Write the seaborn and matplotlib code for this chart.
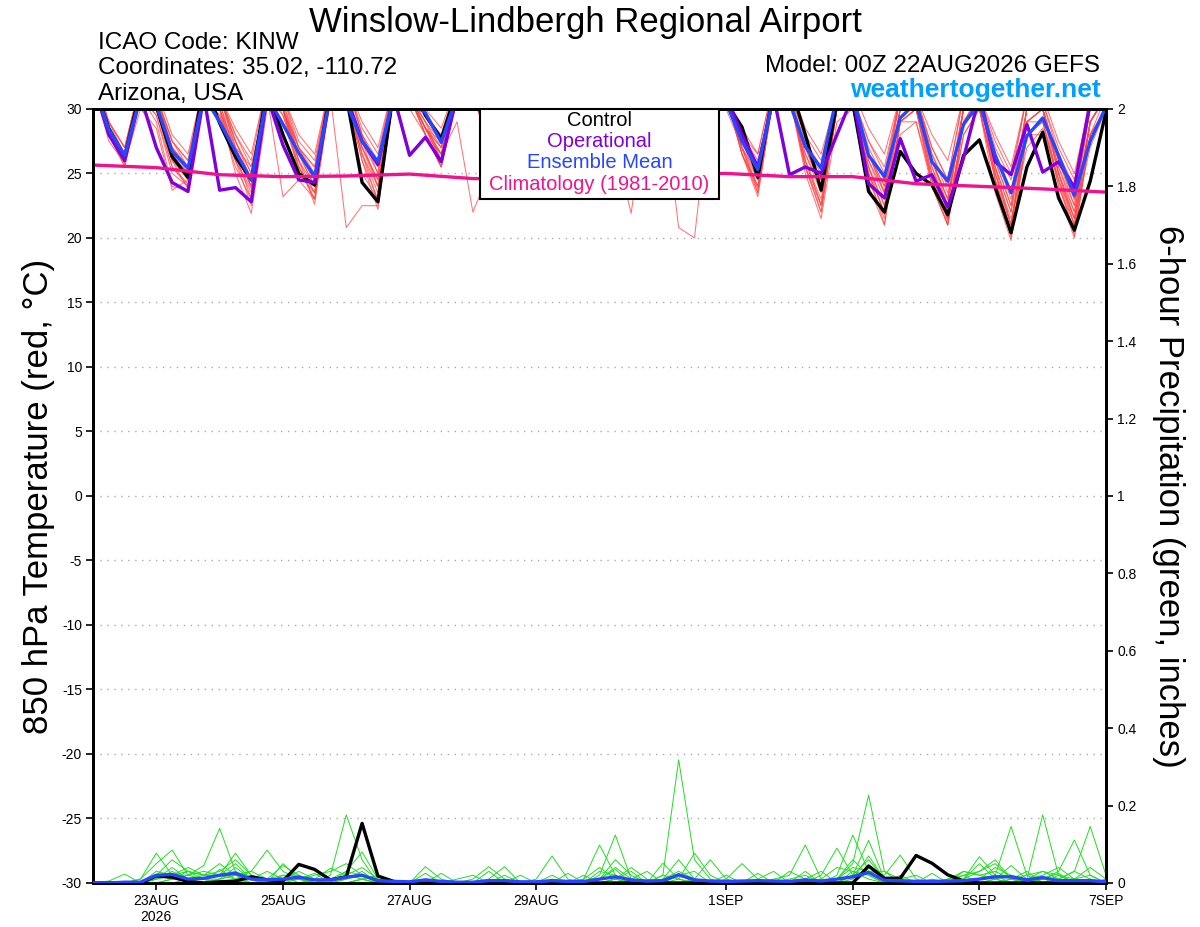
import numpy as np
import pandas as pd
import matplotlib
matplotlib.use('Agg')
import matplotlib.pyplot as plt
import seaborn as sns
from matplotlib.patches import Rectangle

# 6-hourly GEFS steps, 00Z 22AUG2026 -> 00Z 07SEP2026
times = pd.date_range('2026-08-22 00:00', periods=65, freq='6h')
clim_times = pd.date_range('2026-08-22', periods=17, freq='D')

# 850 hPa temperature (degC); values above 30 get clipped by the axis
control_temp = [32, 28.5, 26.3, 31.5, 30.2, 26.3, 24.7, 32, 28.9, 26.3, 24.5, 31.5, 28.0, 25.0, 24.1, 31.5,
                31, 24.3, 22.8, 31.5, 32, 29.5, 27.7, 31.5, 32, 28.0, 25.5, 31.5, 32, 28.0, 25.5, 31,
                32, 28.5, 25.8, 31, 32, 28.0, 25.0, 31, 30.5, 28.6, 24.7, 31.5, 32, 28.0, 23.7, 30.5,
                30.5, 23.6, 22.0, 26.7, 25.0, 24.1, 21.8, 26.4, 27.6, 23.9, 20.4, 25.5, 28.2, 23.1, 20.6, 24.4,
                29.8]
oper_temp = [32, 28.0, 26.0, 31, 27.0, 24.3, 23.6, 31, 23.7, 23.9, 22.8, 31, 27.2, 24.5, 24.3, 31,
             31, 27.5, 25.7, 31, 26.4, 27.8, 25.9, 31, 31, 28.5, 26.0, 31, 31, 28.0, 25.5, 31,
             31, 28.5, 25.5, 31, 31, 28.0, 25.5, 31, 31, 28.0, 25.5, 31, 24.9, 25.5, 25.0, 28.0,
             31, 24.2, 23.1, 27.7, 24.4, 24.9, 22.4, 26.2, 31, 25.9, 24.9, 28.8, 25.1, 25.9, 23.9, 30.5,
             32]
mean_temp = [32, 28.4, 26.4, 31, 30.3, 26.7, 25.4, 31, 29.0, 26.7, 24.5, 31, 28.8, 26.6, 24.75, 31,
             30.5, 27.5, 25.9, 31, 30.5, 29.7, 27.4, 31, 31, 28.5, 26.5, 31, 31, 28.5, 26.3, 31,
             31, 28.6, 26.0, 31, 31, 28.3, 25.8, 31, 30.5, 27.5, 25.3, 31, 30.5, 27.1, 25.4, 31,
             31, 26.4, 24.75, 29.3, 30.5, 25.9, 24.4, 28.8, 30.5, 26.4, 23.5, 27.9, 29.3, 26.4, 23.3, 27.5,
             30.2]
clim_temp = [25.65, 25.45, 24.9, 24.75, 24.8, 24.95, 24.6, 24.6, 24.7, 24.9, 25.0, 24.75, 24.75,
             24.2, 24.0, 23.8, 23.55]

red_members = {
    'm01': [32, 28.0, 25.8, 31, 30.5, 26.5, 24.5, 32, 29.0, 26.0, 23.8, 31, 29.0, 25.5, 23.5, 32,
            31, 27.0, 24.5, 32, 31, 29.0, 27.0, 32, 32, 28.5, 25.5, 31, 31, 28.0, 24.5, 31,
            31, 28.0, 25.0, 31, 31, 28.5, 25.5, 31, 31, 27.5, 24.5, 31, 31, 26.5, 23.5, 30,
            30, 25.5, 22.5, 28, 29, 24.5, 21.5, 28, 30, 25.0, 21.5, 27, 28.5, 24.5, 21.5, 27, 30],
    'm02': [33, 29.0, 27.0, 32, 31.5, 28.0, 26.5, 32, 31, 28.5, 26.5, 32, 31, 28.0, 26.5, 32,
            32, 29.0, 27.0, 32, 32, 30.0, 28.5, 32, 32, 29.5, 27.5, 32, 32, 29.0, 27.5, 32,
            32, 29.5, 27.5, 32, 32, 29.0, 27.5, 32, 31, 28.5, 26.5, 32, 32, 28.5, 26.5, 31,
            31.5, 28.5, 26.5, 31, 31, 28.0, 26.0, 31, 31, 28.0, 25.5, 31, 31, 27.5, 25.0, 30.5, 31],
    'm03': [32, 28.5, 26.0, 31, 29.5, 25.0, 24.0, 31, 30, 26.0, 22.5, 31, 23.2, 24.5, 23.0, 31,
            20.8, 22.5, 22.5, 31, 31, 28.0, 26.0, 32, 31, 28.0, 25.0, 31, 31, 27.5, 24.0, 31,
            31, 27.0, 23.5, 31, 31, 27.5, 24.0, 31, 31, 27.0, 24.0, 31, 31, 26.0, 22.5, 30,
            31, 25.0, 21.0, 29, 30, 24.0, 21.0, 29, 31, 24.5, 20.5, 29, 30, 24.0, 20.5, 28, 31],
    'm04': [32, 28.5, 26.5, 31, 31, 27.0, 25.5, 32, 31, 27.5, 25.0, 31, 30, 26.5, 24.5, 31,
            31, 27.5, 25.5, 31, 30, 28.0, 26.5, 29, 22.0, 25.0, 26.0, 31, 31, 28.0, 25.0, 31,
            31, 27.0, 21.9, 31, 31, 28.0, 25.0, 31, 31, 27.5, 25.5, 31, 31, 27.0, 24.0, 31,
            31, 26.5, 23.5, 30, 31, 26.0, 23.0, 30, 31, 26.0, 22.5, 30, 30, 25.5, 22.5, 29, 31],
    'm05': [32, 28.0, 25.5, 31, 30, 26.0, 23.8, 31, 30, 26.5, 24.0, 31, 30, 26.0, 24.0, 31,
            31, 26.5, 23.5, 31, 31, 28.5, 26.0, 31, 32, 28.0, 25.0, 31, 31, 28.0, 24.5, 31,
            31, 28.0, 24.5, 31, 31, 20.8, 20.0, 31, 31, 27.0, 23.5, 31, 31, 25.5, 22.0, 30,
            30, 25.0, 22.0, 29, 30, 25.0, 21.5, 29, 30, 24.5, 20.0, 28, 29, 24.5, 20.2, 28, 30],
    'm06': [32, 28.5, 26.0, 31, 30.5, 27.0, 25.0, 32, 30, 27.0, 24.5, 32, 29.5, 26.5, 25.0, 31,
            31, 27.5, 25.0, 32, 31, 28.5, 27.5, 32, 31, 28.5, 26.0, 31, 31, 28.0, 25.5, 31,
            31, 28.0, 25.5, 31, 31, 28.0, 25.0, 31, 30, 27.0, 25.0, 31, 31, 27.0, 24.5, 30,
            31, 26.5, 24.0, 31, 31, 26.0, 23.0, 30, 31, 26.5, 23.5, 30, 30, 26.0, 23.0, 30, 32],
    'm07': [32, 28.0, 26.0, 31, 29, 24.0, 23.7, 31, 30, 25.0, 21.9, 30, 30, 26.0, 22.6, 31,
            31, 26.0, 22.2, 31, 31, 28.0, 25.5, 31, 31, 27.5, 24.0, 31, 31, 27.0, 23.5, 31,
            31, 27.0, 24.0, 31, 31, 27.5, 24.5, 31, 31, 26.5, 24.0, 31, 31, 25.5, 22.0, 30,
            30, 24.5, 21.5, 29, 30, 24.5, 21.0, 29, 30, 25.0, 21.0, 29, 29, 24.0, 21.0, 29, 31],
    'm08': [32, 29.0, 27.0, 32, 31, 27.5, 26.0, 32, 31, 28.0, 25.5, 31, 30, 27.0, 25.5, 32,
            32, 28.0, 26.0, 32, 31, 28.5, 27.0, 32, 32, 29.0, 26.5, 32, 31, 28.5, 26.0, 31,
            31, 28.5, 26.5, 31, 31, 28.5, 26.0, 31, 31, 28.0, 26.0, 31, 31, 27.5, 25.5, 31,
            31, 27.5, 25.5, 31, 31, 27.0, 24.5, 31, 31, 27.0, 24.5, 31, 30.5, 26.5, 24.0, 30, 31],
    'm09': [32, 27.5, 25.8, 30, 28.5, 23.7, 24.5, 31, 29.5, 26.5, 23.0, 31, 30, 25.0, 23.5, 31,
            31, 25.0, 23.0, 31, 31, 28.5, 26.0, 31, 31, 28.0, 25.0, 31, 31, 27.5, 25.0, 31,
            31, 28.0, 25.0, 31, 31, 27.5, 24.5, 31, 31, 26.5, 23.2, 31, 31, 26.0, 22.6, 30,
            31, 25.5, 21.8, 30, 30, 25.0, 21.3, 29, 31, 25.5, 21.0, 29, 30, 25.0, 21.5, 29, 31],
    'm10': [32, 28.5, 26.5, 31, 31, 27.0, 25.5, 32, 31, 27.5, 24.5, 31, 30, 26.5, 24.0, 31,
            31, 26.5, 24.0, 31, 31, 29.0, 26.0, 32, 31, 28.0, 25.5, 31, 31, 28.0, 25.0, 31,
            31, 28.0, 25.0, 31, 31, 28.0, 25.0, 31, 31, 27.5, 25.0, 31, 31, 27.0, 24.5, 31,
            31, 26.5, 23.5, 31, 30.5, 26.0, 23.0, 30, 31, 25.5, 22.0, 30, 30, 25.0, 22.0, 29, 31],
    'm11': [32, 28.0, 26.0, 31, 30, 26.0, 24.5, 31, 30, 26.0, 23.5, 31, 29.5, 25.5, 23.0, 31,
            31, 26.0, 23.0, 31, 31, 28.0, 25.5, 31, 31, 27.5, 24.5, 31, 31, 27.0, 24.0, 31,
            31, 27.5, 24.0, 31, 31, 27.0, 24.0, 31, 31, 26.5, 23.5, 31, 31, 25.0, 21.5, 29,
            30, 24.0, 21.0, 29, 29, 24.0, 21.0, 28, 30, 23.5, 19.8, 28, 28, 23.5, 20.0, 28, 30],
    'm12': [32, 29.0, 26.5, 32, 31, 27.5, 26.0, 32, 31, 28.0, 26.0, 32, 31, 27.5, 26.0, 32,
            32, 28.5, 26.5, 32, 32, 29.5, 28.0, 32, 32, 29.0, 27.0, 32, 32, 28.5, 26.5, 32,
            32, 29.0, 27.0, 32, 32, 28.5, 26.5, 32, 31, 28.0, 26.5, 32, 31, 28.0, 26.0, 31,
            31, 27.5, 25.0, 31, 31, 27.0, 24.5, 31, 31, 27.5, 25.0, 31, 30.5, 27.0, 24.5, 31, 32],
    'm13': [32, 28.5, 26.0, 31, 30, 25.5, 24.0, 31, 30.5, 26.5, 24.0, 31, 30, 26.0, 23.5, 31,
            31, 26.5, 22.8, 31, 31, 28.5, 26.5, 32, 31, 28.0, 25.5, 31, 31, 28.0, 25.0, 31,
            31, 28.0, 25.0, 31, 31, 27.5, 24.5, 31, 31, 27.0, 23.8, 31, 31, 26.0, 23.0, 30,
            30, 25.5, 22.5, 30, 30, 25.5, 22.0, 29, 31, 25.0, 21.0, 29, 30, 25.0, 21.0, 29, 31],
    'm14': [33, 29.0, 27.0, 32, 31, 27.5, 25.5, 32, 31, 27.0, 25.5, 31, 31, 27.0, 25.0, 32,
            32, 28.0, 25.5, 32, 31, 29.0, 27.5, 32, 32, 28.5, 26.5, 31, 31, 28.5, 26.0, 31,
            31, 28.5, 26.0, 31, 31, 28.0, 26.0, 31, 31, 27.5, 25.5, 31, 31, 27.0, 25.0, 31,
            31, 27.0, 24.5, 31, 31, 26.5, 24.0, 30, 31, 26.5, 23.5, 30, 30, 26.0, 23.0, 30, 31],
    'm15': [32, 28.0, 25.6, 31, 29.5, 25.5, 24.2, 31, 29.5, 25.5, 23.0, 31, 30, 25.5, 23.0, 31,
            31, 27.0, 24.0, 31, 31, 28.0, 25.5, 31, 31, 28.0, 24.5, 31, 31, 27.5, 24.5, 31,
            31, 27.5, 24.5, 31, 31, 27.5, 24.5, 31, 31, 26.5, 24.0, 31, 31, 25.5, 22.5, 30,
            30, 25.0, 22.0, 29, 30, 24.5, 21.5, 29, 30, 24.5, 21.0, 28, 29, 24.5, 21.0, 28, 30],
    'm16': [32, 28.5, 26.5, 31, 31, 26.5, 25.0, 32, 31, 27.0, 24.0, 31, 30.5, 26.5, 24.0, 31,
            31, 27.0, 24.5, 31, 31, 28.5, 26.5, 32, 31, 28.5, 26.0, 31, 31, 28.0, 25.5, 31,
            31, 28.0, 25.5, 31, 31, 28.0, 25.5, 31, 31, 27.5, 25.0, 31, 31, 26.5, 24.0, 31,
            31, 26.0, 23.5, 30, 31, 26.0, 22.5, 30, 31, 26.0, 22.5, 30, 30, 25.5, 22.0, 29, 31],
    'm17': [32, 28.0, 26.0, 31, 30, 26.5, 24.8, 31, 30.5, 26.5, 24.5, 31, 30, 27.0, 24.5, 31,
            31, 27.5, 24.0, 31, 31, 28.5, 26.5, 31, 31, 28.5, 25.5, 31, 31, 28.0, 25.0, 31,
            31, 28.0, 25.5, 31, 31, 27.5, 25.0, 31, 31, 27.0, 24.5, 31, 31, 27.0, 24.0, 31,
            31, 26.0, 23.0, 30, 30.5, 25.5, 22.5, 30, 31, 25.5, 22.0, 29, 30, 25.0, 21.5, 29, 31],
    'm18': [32, 28.5, 26.2, 31, 30.5, 27.0, 25.5, 32, 31, 27.5, 25.0, 31, 30.5, 27.0, 25.5, 32,
            32, 28.0, 25.0, 32, 31, 28.5, 27.0, 32, 31, 28.5, 26.0, 31, 31, 28.5, 25.5, 31,
            31, 28.5, 25.5, 31, 31, 28.0, 25.5, 31, 31, 28.0, 25.5, 31, 31, 27.0, 24.5, 31,
            31, 26.5, 24.0, 30, 31, 26.5, 23.5, 30, 31, 26.5, 23.0, 30, 30, 26.0, 22.5, 30, 31],
}

# 6-hour precipitation (inches)
control_precip = [0, 0, 0, 0, 0.018, 0.015, 0.004, 0, 0.003, 0.005, 0.016, 0.008, 0.005, 0.048, 0.035, 0.008,
                  0.016, 0.154, 0.018, 0.004, 0, 0, 0, 0, 0, 0, 0, 0, 0, 0, 0, 0,
                  0, 0, 0, 0, 0, 0, 0, 0, 0, 0, 0, 0, 0, 0, 0, 0,
                  0, 0.044, 0.012, 0.012, 0.071, 0.051, 0.021, 0.005, 0, 0, 0, 0, 0, 0, 0, 0,
                  0]
mean_precip = [0, 0, 0.002, 0.002, 0.02, 0.022, 0.01, 0.012, 0.02, 0.025, 0.01, 0.008, 0.01, 0.015, 0.008, 0.008,
               0.015, 0.02, 0.006, 0.004, 0.003, 0.008, 0.004, 0.002, 0.002, 0.006, 0.006, 0.003, 0.003, 0.006, 0.004, 0.004,
               0.01, 0.016, 0.008, 0.005, 0.006, 0.021, 0.008, 0.005, 0.004, 0.005, 0.006, 0.005, 0.004, 0.008, 0.005, 0.01,
               0.016, 0.027, 0.007, 0.006, 0.004, 0.004, 0.005, 0.006, 0.01, 0.016, 0.016, 0.008, 0.014, 0.006, 0.006, 0.006,
               0.003]

green_members = {
    'g01': [0, 0.005, 0.023, 0, 0.01, 0.04, 0.01, 0, 0.035, 0.01, 0, 0, 0.005, 0.01, 0.025, 0,
            0.01, 0.02, 0, 0, 0, 0.042, 0.01, 0, 0, 0, 0, 0, 0, 0.01, 0, 0.02,
            0, 0.01, 0.03, 0, 0, 0.01, 0.077, 0.02, 0, 0, 0.01, 0, 0.03, 0.01, 0, 0,
            0.02, 0.11, 0.01, 0, 0, 0, 0.01, 0.02, 0, 0, 0.01, 0.03, 0, 0, 0.01, 0, 0.01],
    'g02': [0, 0, 0, 0.01, 0.077, 0.02, 0.03, 0.01, 0.02, 0.05, 0.01, 0, 0.05, 0.01, 0, 0,
            0, 0.01, 0, 0, 0, 0.025, 0, 0, 0, 0, 0, 0.02, 0, 0, 0, 0.01,
            0.098, 0.02, 0, 0, 0.01, 0.06, 0.01, 0, 0, 0, 0, 0, 0, 0.01, 0.03, 0,
            0.01, 0.07, 0.01, 0, 0, 0, 0, 0.01, 0.05, 0.01, 0, 0, 0.01, 0.025, 0, 0, 0],
    'g03': [0, 0, 0, 0.01, 0.05, 0.085, 0.02, 0.01, 0.01, 0.02, 0.03, 0.01, 0, 0, 0, 0.01,
            0.02, 0.04, 0.01, 0, 0, 0, 0, 0, 0.01, 0.042, 0.01, 0, 0, 0, 0, 0,
            0, 0, 0.01, 0.03, 0, 0, 0, 0, 0.02, 0, 0, 0, 0, 0, 0.02, 0.09,
            0.02, 0.03, 0.03, 0.01, 0, 0, 0, 0, 0.01, 0.04, 0.02, 0, 0.01, 0.03, 0.111, 0.02, 0],
    'g04': [0, 0, 0, 0, 0.03, 0.02, 0.02, 0.045, 0.141, 0.03, 0.01, 0, 0.01, 0.03, 0.01, 0,
            0, 0, 0, 0, 0, 0, 0, 0, 0, 0.03, 0, 0, 0, 0, 0, 0,
            0.01, 0.035, 0, 0, 0, 0.025, 0, 0, 0, 0, 0, 0, 0, 0, 0, 0.02,
            0.124, 0.03, 0, 0, 0, 0.025, 0, 0, 0, 0.01, 0, 0.01, 0.03, 0.01, 0, 0, 0],
    'g05': [0, 0, 0, 0, 0.02, 0.06, 0.03, 0.02, 0.02, 0.077, 0.02, 0.01, 0.02, 0, 0, 0,
            0.01, 0.03, 0, 0, 0, 0, 0, 0, 0, 0.01, 0.042, 0, 0, 0, 0, 0,
            0, 0.01, 0, 0, 0.051, 0.01, 0, 0, 0, 0, 0.025, 0, 0, 0, 0, 0.01,
            0.06, 0.02, 0, 0, 0, 0, 0.01, 0.03, 0.02, 0.01, 0.02, 0.01, 0.176, 0.02, 0, 0, 0],
    'g06': [0, 0, 0, 0, 0.01, 0.02, 0.04, 0.02, 0.03, 0.06, 0.02, 0, 0, 0, 0.01, 0.038,
            0.02, 0.01, 0, 0, 0, 0, 0.025, 0, 0, 0, 0, 0, 0, 0, 0.025, 0,
            0.02, 0.124, 0.01, 0, 0, 0.02, 0.03, 0, 0, 0, 0, 0.01, 0.02, 0.098, 0.01, 0,
            0, 0.04, 0.01, 0, 0, 0, 0, 0.01, 0.03, 0.05, 0.01, 0, 0, 0.01, 0.03, 0.146, 0.02],
    'g07': [0, 0, 0, 0, 0, 0.01, 0.02, 0.03, 0.02, 0.01, 0.03, 0.085, 0.03, 0.01, 0, 0,
            0, 0.01, 0.02, 0, 0, 0, 0, 0, 0, 0, 0, 0, 0, 0, 0, 0.01,
            0.04, 0.01, 0, 0, 0.02, 0.318, 0.06, 0.01, 0, 0, 0, 0, 0, 0.03, 0, 0,
            0, 0.03, 0.02, 0.072, 0.01, 0, 0, 0, 0, 0.01, 0.045, 0.01, 0, 0, 0.01, 0.02, 0],
    'g08': [0, 0, 0, 0, 0.01, 0.02, 0.01, 0.02, 0.05, 0.02, 0.01, 0.03, 0.01, 0.01, 0, 0.02,
            0.176, 0.06, 0, 0, 0, 0, 0, 0, 0, 0, 0, 0, 0, 0, 0, 0,
            0.01, 0.06, 0.02, 0, 0, 0, 0.01, 0.06, 0.01, 0, 0, 0, 0, 0, 0.01, 0.04,
            0.03, 0.02, 0, 0.01, 0.02, 0, 0, 0, 0.01, 0.02, 0.146, 0.02, 0, 0, 0, 0.01, 0],
    'g09': [0, 0, 0, 0, 0, 0.01, 0.01, 0, 0.01, 0.02, 0, 0.01, 0.045, 0.02, 0, 0.01,
            0.03, 0.08, 0.01, 0, 0, 0, 0, 0, 0, 0, 0.02, 0, 0, 0, 0, 0,
            0, 0.01, 0.04, 0.01, 0, 0, 0, 0, 0.01, 0.05, 0.01, 0, 0, 0, 0, 0.01,
            0.05, 0.227, 0.03, 0, 0, 0, 0, 0, 0, 0, 0.01, 0.01, 0.02, 0.04, 0.01, 0, 0],
    'g10': [0, 0, 0, 0, 0, 0, 0.01, 0.01, 0, 0, 0.01, 0, 0, 0.01, 0.02, 0.03,
            0.05, 0.02, 0, 0, 0, 0, 0, 0, 0, 0, 0, 0, 0.01, 0.07, 0.01, 0,
            0, 0, 0, 0, 0.02, 0.01, 0, 0, 0, 0, 0.01, 0.03, 0, 0, 0, 0,
            0.03, 0.01, 0, 0, 0, 0, 0, 0.01, 0.068, 0.02, 0, 0, 0.01, 0.01, 0.03, 0.01, 0],
    'g11': [0, 0, 0, 0, 0.01, 0.03, 0.01, 0, 0.01, 0.04, 0.01, 0, 0, 0, 0, 0,
            0, 0.01, 0, 0, 0, 0, 0, 0.01, 0.02, 0, 0, 0, 0, 0, 0, 0,
            0.01, 0.04, 0.01, 0, 0, 0, 0, 0, 0, 0, 0, 0, 0.01, 0.02, 0, 0,
            0.02, 0.06, 0.01, 0, 0, 0, 0, 0.02, 0.03, 0.06, 0.01, 0, 0, 0.02, 0.01, 0.04, 0.01],
    'g12': [0, 0, 0, 0, 0.02, 0.01, 0.03, 0.02, 0.02, 0.03, 0.01, 0, 0.02, 0.02, 0, 0,
            0.03, 0.02, 0.01, 0, 0, 0.01, 0, 0, 0, 0, 0.01, 0, 0, 0.02, 0, 0,
            0.03, 0.02, 0, 0, 0.01, 0.03, 0.01, 0, 0, 0, 0, 0, 0, 0.01, 0, 0.01,
            0.04, 0.03, 0, 0.02, 0, 0.01, 0, 0.03, 0.02, 0.03, 0.01, 0.02, 0.03, 0.02, 0, 0, 0],
}

tick_dates = pd.to_datetime(['2026-08-23', '2026-08-25', '2026-08-27', '2026-08-29',
                             '2026-09-01', '2026-09-03', '2026-09-05', '2026-09-07'])
tick_labels = ['23AUG\n2026', '25AUG', '27AUG', '29AUG', '1SEP', '3SEP', '5SEP', '7SEP']
legend_labels = ['Control', 'Operational', 'Ensemble Mean', 'Climatology (1981-2010)']

c_red = '#ff4646'
c_green = '#22dd22'
c_oper = '#8000dc'
c_mean = '#2846ff'
c_clim = '#f0148c'
legend_colors = ['black', c_oper, c_mean, c_clim]

sns.set_theme(style='white')
plt.rcParams['font.family'] = ['Liberation Sans', 'DejaVu Sans']
plt.rcParams['text.color'] = 'black'
plt.rcParams['axes.labelcolor'] = 'black'
plt.rcParams['xtick.color'] = 'black'
plt.rcParams['ytick.color'] = 'black'

df_red = pd.DataFrame(red_members, index=times).reset_index(names='time').melt(
    id_vars='time', var_name='member', value_name='temp')
df_green = pd.DataFrame(green_members, index=times).reset_index(names='time').melt(
    id_vars='time', var_name='member', value_name='precip')

fig = plt.figure(figsize=(12, 9.27), dpi=100)
ax = fig.add_axes([0.0775, 0.0475, 0.8442, 0.835])
ax2 = ax.twinx()

# temperature
sns.lineplot(data=df_red, x='time', y='temp', units='member', estimator=None,
             color=c_red, lw=0.75, alpha=0.75, ax=ax, zorder=2)
sns.lineplot(x=times, y=control_temp, color='black', lw=2.4, ax=ax, zorder=3)
sns.lineplot(x=times, y=oper_temp, color=c_oper, lw=2.4, ax=ax, zorder=4)
sns.lineplot(x=times, y=mean_temp, color=c_mean, lw=2.4, ax=ax, zorder=5)
sns.lineplot(x=clim_times, y=clim_temp, color=c_clim, lw=2.4, ax=ax, zorder=6)

# precipitation
sns.lineplot(data=df_green, x='time', y='precip', units='member', estimator=None,
             color=c_green, lw=0.7, ax=ax2, zorder=2)
sns.lineplot(x=times, y=control_precip, color='black', lw=2.4, ax=ax2, zorder=3)
sns.lineplot(x=times, y=mean_precip, color=c_mean, lw=2.4, ax=ax2, zorder=4)

ax.set_xlim(times[0], times[-1])
ax.set_ylim(-30, 30)
ax2.set_ylim(0, 2)

ax.set_yticks(np.arange(-30, 31, 5))
ax.set_yticklabels([str(v) for v in range(-30, 31, 5)])
ax2.set_yticks(np.arange(0, 2.01, 0.2))
ax2.set_yticklabels(['0', '0.2', '0.4', '0.6', '0.8', '1', '1.2', '1.4', '1.6', '1.8', '2'])
ax.set_xticks(tick_dates)
ax.set_xticklabels(tick_labels)

ax.yaxis.grid(True, linestyle=(0, (1, 4)), color='#aaaaaa', lw=1)
ax.xaxis.grid(False)
ax2.grid(False)

for a in (ax, ax2):
    for s in a.spines.values():
        s.set_linewidth(2)
        s.set_color('black')
ax.tick_params(axis='y', direction='out', length=5, width=1.2, labelsize=10, pad=3, left=True)
ax.tick_params(axis='x', direction='out', length=5, width=1.2, labelsize=10, pad=3, bottom=True)
ax2.tick_params(axis='y', direction='out', length=5, width=1.2, labelsize=10, pad=3, right=True)

ax.set_xlabel('')
ax.set_ylabel('850 hPa Temperature (red, °C)', fontsize=25)
ax.yaxis.set_label_coords(-0.038, 0.5)
ax2.set_ylabel('6-hour Precipitation (green, inches)', fontsize=25, rotation=270, va='center')
ax2.yaxis.set_label_coords(1.062, 0.5)

# legend box in the top middle of the plot
ax2.add_patch(Rectangle((0.382, 0.8837), 0.236, 0.1163, transform=ax2.transAxes,
                        facecolor='white', edgecolor='black', lw=1.5, zorder=20, clip_on=False))
for ypos, lab, col in zip([0.9845, 0.9574, 0.9302, 0.9018], legend_labels, legend_colors):
    ax2.text(0.5, ypos, lab, color=col, fontsize=14.5, ha='center', va='center',
             transform=ax2.transAxes, zorder=21)

fig.text(0.488, 0.9655, 'Winslow-Lindbergh Regional Airport', fontsize=25, ha='center', va='baseline')
fig.text(0.0817, 0.947, 'ICAO Code: KINW', fontsize=17.5, va='baseline')
fig.text(0.0817, 0.920, 'Coordinates: 35.02, -110.72', fontsize=17.5, va='baseline')
fig.text(0.0817, 0.892, 'Arizona, USA', fontsize=17.5, va='baseline')
fig.text(0.917, 0.922, 'Model: 00Z 22AUG2026 GEFS', fontsize=17.5, ha='right', va='baseline')
fig.text(0.917, 0.895, 'weathertogether.net', fontsize=19, fontweight='bold',
         color='#00a0ff', ha='right', va='baseline')

fig.savefig('out.png', dpi=100)
